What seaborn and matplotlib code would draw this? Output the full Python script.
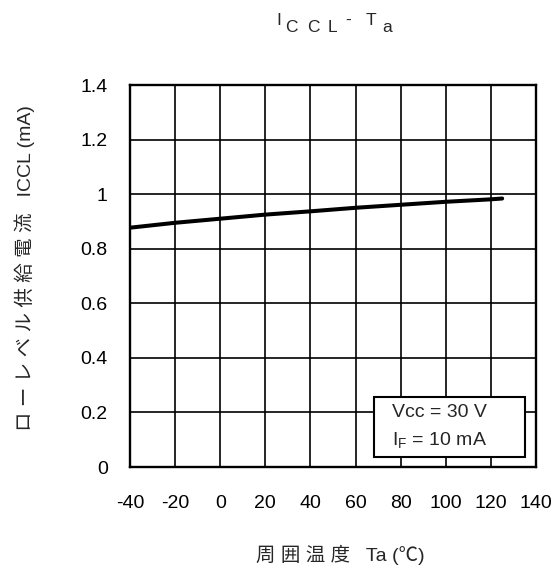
# ICCL vs Ta characteristic (low-level supply current vs ambient temperature)

import matplotlib
matplotlib.use('Agg')
import matplotlib.pyplot as plt
import seaborn as sns
from matplotlib.patches import Rectangle

# data
ta = [-40, -20, 0, 20, 40, 60, 80, 100, 120, 125]
iccl = [0.877, 0.895, 0.910, 0.925, 0.937, 0.950, 0.961, 0.972, 0.981, 0.984]

x_ticks = [-40, -20, 0, 20, 40, 60, 80, 100, 120, 140]
y_ticks = [0, 0.2, 0.4, 0.6, 0.8, 1.0, 1.2, 1.4]
y_tick_labels = ['0', '0.2', '0.4', '0.6', '0.8', '1', '1.2', '1.4']

sns.set_theme(style='white')
plt.rcParams['font.family'] = ['Liberation Sans', 'Noto Sans CJK JP']
plt.rcParams['mathtext.fontset'] = 'custom'
plt.rcParams['mathtext.rm'] = 'Liberation Sans'
plt.rcParams['axes.unicode_minus'] = False

W, H = 555, 573
fig = plt.figure(figsize=(W / 100, H / 100), dpi=100)
ax = fig.add_axes([130 / W, 1 - 467 / H, 406 / W, 382 / H])

sns.lineplot(x=ta, y=iccl, color='black', lw=2.9, ax=ax)

ax.set_xlim(-40, 140)
ax.set_ylim(0, 1.4)
ax.set_xticks(x_ticks)
ax.set_yticks(y_ticks, y_tick_labels)
ax.set_axisbelow(True)
ax.grid(True, color='black', lw=1.2)
for s in ax.spines.values():
    s.set_color('black')
    s.set_linewidth(1.7)
ax.tick_params(axis='both', length=0, labelsize=14, colors='black')
ax.tick_params(axis='y', pad=16)
ax.tick_params(axis='x', pad=20)
ax.set_xlabel('')
ax.set_ylabel('')

# condition box
ax.add_patch(Rectangle((68.2, 0.037), 66.9, 0.22, facecolor='white',
                       edgecolor='black', lw=1.5, zorder=3))
ax.text(76.2, 0.198, 'Vcc = 30 V', fontsize=14, va='center', ha='left', zorder=4)
ax.text(76.2, 0.099, r'I$\mathregular{_F}$ = 10 mA', fontsize=14, va='center', ha='left', zorder=4)

# axis labels
fig.text(25 / W, 1 - 268 / H, 'ロ ー レ ベ ル 供 給 電 流   ICCL (mA)',
         rotation=90, fontsize=14, ha='center', va='center')
fig.text(340 / W, 1 - 555 / H, '周 囲 温 度   Ta (℃)',
         fontsize=14, ha='center', va='center')

# title "ICCL - Ta" with raised / lowered letters
title_parts = [('I', 276, 25), ('C', 285, 32), ('C', 307, 32), ('L', 328, 32),
               ('-', 345, 25), ('T', 366, 25), ('a', 382, 32)]
for ch, px, py in title_parts:
    fig.text(px / W, 1 - py / H, ch, fontsize=12.5, ha='left', va='baseline')

fig.savefig('out.png', dpi=100)
